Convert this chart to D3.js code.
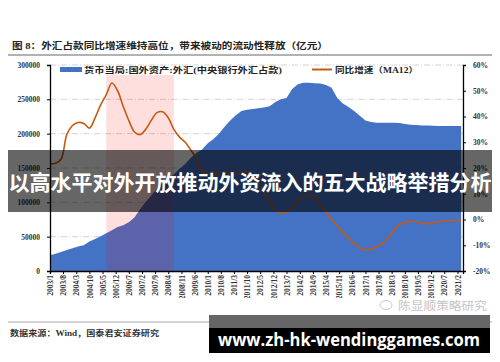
<!DOCTYPE html>
<html>
<head>
<meta charset="utf-8">
<script src="https://cdn.jsdelivr.net/npm/d3@7"></script>
<style>
body { margin: 0; background: #fff; }
svg { display: block; }
</style>
</head>
<body>
<svg id="chart" width="500" height="362"></svg>
<script>
// quarterly samples, 2003/1 .. 2021/4
let months = [
  "2003/1","2003/4","2003/7","2003/10","2004/1","2004/4","2004/7","2004/10",
  "2005/1","2005/4","2005/7","2005/10","2006/1","2006/4","2006/7","2006/10",
  "2007/1","2007/4","2007/7","2007/10","2008/1","2008/4","2008/7","2008/10",
  "2009/1","2009/4","2009/7","2009/10","2010/1","2010/4","2010/7","2010/10",
  "2011/1","2011/4","2011/7","2011/10","2012/1","2012/4","2012/7","2012/10",
  "2013/1","2013/4","2013/7","2013/10","2014/1","2014/4","2014/7","2014/10",
  "2015/1","2015/4","2015/7","2015/10","2016/1","2016/4","2016/7","2016/10",
  "2017/1","2017/4","2017/7","2017/10","2018/1","2018/4","2018/7","2018/10",
  "2019/1","2019/4","2019/7","2019/10","2020/1","2020/4","2020/7","2020/10",
  "2021/1","2021/4"];

// 货币当局:国外资产:外汇 (亿元)
let fxHoldings = [
  23000,25000,27500,30500,33000,35500,37500,43000,
  46500,50500,55000,59500,64000,66500,71000,78000,
  90000,101000,110000,120000,128000,134000,141000,149000,
  156000,165000,172000,177000,186000,192000,200000,210000,
  219000,227000,233000,235000,236000,237000,238000,240000,
  246000,250000,252000,265000,272000,274000,274000,273500,
  273000,271000,267000,252000,244000,239000,233000,226000,
  219000,217000,216000,216000,216000,216000,215500,214000,
  213000,212500,212000,212000,211500,211000,211000,211000,
  211000,211000];

// 同比增速 MA12 (%)
let growth = [
  21.7,21.8,23.5,33,36.5,37.7,37.3,35.5,
  39.5,44.5,48.5,53,50,44,38.5,34,
  33,35,38.5,41.5,41.8,39.5,35,32,
  30,27,23.7,19,17.8,17.8,18,18.2,
  18.2,18.2,18.3,18.2,17.2,15,11,7,
  3.5,2.6,3,4.5,7.5,9.2,9.4,8.8,
  5.5,3,0,-2.5,-5,-7.2,-9.3,-11.2,
  -11.8,-11.5,-10.6,-9.3,-7,-4.5,-2,-1,
  -0.8,-0.8,-1.4,-1.6,-1.2,-0.8,-0.5,-0.4,
  -0.4,-0.4];

let tickLabels = ["2003/1","2003/8","2004/3","2004/10","2005/5","2005/12","2006/7","2007/2",
  "2007/9","2008/4","2008/11","2009/6","2010/1","2010/8","2011/3","2011/10",
  "2012/5","2012/12","2013/7","2014/2","2014/9","2015/4","2015/11","2016/6",
  "2017/1","2017/8","2018/3","2018/10","2019/5","2019/12","2020/7","2021/2"];
let leftTicks = [0,50000,100000,150000,200000,250000,300000];
let rightTicks = [-20,-10,0,10,20,30,40,50,60];
let band = ["2005/7","2008/7"];

let parse = d3.timeParse("%Y/%m");
let fmt = d3.timeFormat("%Y/%-m");

let svg = d3.select("#chart");
let serif = "'Liberation Serif','Noto Sans CJK SC',serif";

let x = d3.scaleTime()
  .domain([parse("2003/1"), parse("2021/5")])
  .range([50, 463]);
let yL = d3.scaleLinear().domain([0,300000]).range([271,65]);
let yR = d3.scaleLinear().domain([-20,60]).range([271,65]);

let data = months.map((m,i) => ({date: parse(m), v: fxHoldings[i], g: growth[i]}));

// title
svg.append("text")
  .attr("x", 12).attr("y", 49)
  .attr("textLength", 316).attr("lengthAdjust", "spacingAndGlyphs")
  .style("font-family", serif).style("font-size", "9px").style("font-weight", "bold")
  .style("fill", "#222")
  .text("图 8：外汇占款同比增速维持高位，带来被动的流动性释放（亿元）");
svg.append("line")
  .attr("x1", 8).attr("x2", 492).attr("y1", 55).attr("y2", 55)
  .attr("stroke", "#999").attr("stroke-width", 1.5);

// grid
leftTicks.slice(1).forEach(t =>
  svg.append("line")
    .attr("x1", 50).attr("x2", 463)
    .attr("y1", yL(t)).attr("y2", yL(t))
    .attr("stroke", "#d4d4d4")
    .attr("stroke-dasharray", "6,2,1,2")
);

// area
let area = d3.area()
  .x(d => x(d.date))
  .y0(yL(0))
  .y1(d => yL(d.v));
svg.append("path")
  .datum(data)
  .attr("d", area)
  .attr("fill", "#4472C4");

// shaded period
svg.append("rect")
  .attr("x", x(parse(band[0])))
  .attr("width", x(parse(band[1])) - x(parse(band[0])))
  .attr("y", 75).attr("height", yL(0) - 75)
  .attr("fill", "rgba(255,0,0,0.13)");

// growth line
let line = d3.line()
  .x(d => x(d.date))
  .y(d => yR(d.g))
  .curve(d3.curveCatmullRom);
svg.append("path")
  .datum(data)
  .attr("d", line)
  .attr("fill", "none")
  .attr("stroke", "#C55A11")
  .attr("stroke-width", 1.6);

// axes
let leftAxis = svg.append("g")
  .attr("transform", "translate(50,0)")
  .call(d3.axisLeft(yL).tickValues(leftTicks).tickSize(3).tickFormat(d3.format("d")));
let rightAxis = svg.append("g")
  .attr("transform", "translate(463,0)")
  .call(d3.axisRight(yR).tickValues(rightTicks).tickSize(3).tickFormat(d => d + "%"));

// long labels get cut at the bottom, like the source picture
svg.append("clipPath").attr("id", "xclip")
  .append("rect").attr("x", 0).attr("y", -10).attr("width", 500).attr("height", 37);
let bottomAxis = svg.append("g")
  .attr("transform", "translate(0,271)")
  .attr("clip-path", "url(#xclip)")
  .call(d3.axisBottom(x).tickValues(tickLabels.map(parse)).tickSize(3).tickFormat(fmt));
bottomAxis.selectAll("text")
  .attr("transform", "rotate(-90)")
  .attr("x", -4).attr("y", 0).attr("dy", "0.35em")
  .style("text-anchor", "end");

[leftAxis, rightAxis, bottomAxis].forEach(a => {
  a.select(".domain").attr("stroke", "#000").attr("stroke-width", 1.3);
  a.selectAll(".tick line").attr("stroke", "#000");
  a.selectAll("text")
    .style("font-family", serif).style("font-weight", "bold")
    .style("font-size", "7.5px").style("fill", "#333");
});
leftAxis.selectAll("text").attr("x", -10);
rightAxis.selectAll("text").attr("x", 10);

// legend
svg.append("rect")
  .attr("x", 60).attr("y", 67).attr("width", 22).attr("height", 5)
  .attr("fill", "#4472C4");
svg.append("text")
  .attr("x", 84).attr("y", 73)
  .attr("textLength", 198).attr("lengthAdjust", "spacingAndGlyphs")
  .style("font-family", serif).style("font-size", "8px").style("font-weight", "bold")
  .style("fill", "#222")
  .text("货币当局:国外资产:外汇(中央银行外汇占款)");
svg.append("line")
  .attr("x1", 312).attr("x2", 332).attr("y1", 69.5).attr("y2", 69.5)
  .attr("stroke", "#C55A11").attr("stroke-width", 2);
svg.append("text")
  .attr("x", 335).attr("y", 73)
  .attr("textLength", 83).attr("lengthAdjust", "spacingAndGlyphs")
  .style("font-family", serif).style("font-size", "8px").style("font-weight", "bold")
  .style("fill", "#222")
  .text("同比增速（MA12）");

// watermark
svg.append("ellipse")
  .attr("cx", 386).attr("cy", 305).attr("rx", 6).attr("ry", 4.5)
  .attr("fill", "none").attr("stroke", "#c8c8c8");
svg.append("text")
  .attr("x", 398).attr("y", 310)
  .attr("textLength", 89).attr("lengthAdjust", "spacingAndGlyphs")
  .style("font-family", "'Noto Sans CJK SC'").style("font-size", "11px")
  .style("fill", "#c4c4c4")
  .text("陈显顺策略研究");

// source
svg.append("line")
  .attr("x1", 8).attr("x2", 492).attr("y1", 322).attr("y2", 322)
  .attr("stroke", "#aaa").attr("stroke-width", 1);
svg.append("text")
  .attr("x", 10).attr("y", 336)
  .attr("textLength", 149).attr("lengthAdjust", "spacingAndGlyphs")
  .style("font-family", serif).style("font-size", "7.5px").style("font-weight", "bold")
  .style("fill", "#333")
  .text("数据来源：Wind，国泰君安证券研究");

// overlay banners
svg.append("rect")
  .attr("x", 8).attr("y", 150).attr("width", 484).attr("height", 62)
  .attr("fill", "rgba(0,0,0,0.6)");
svg.append("text")
  .attr("x", 250).attr("y", 190)
  .attr("text-anchor", "middle")
  .style("font-family", "'Noto Sans CJK SC'").style("font-size", "21px").style("font-weight", "bold")
  .style("fill", "#fff")
  .text("以高水平对外开放推动外资流入的五大战略举措分析");

svg.append("rect")
  .attr("x", 209).attr("y", 315).attr("width", 281).attr("height", 13)
  .attr("fill", "#666");
svg.append("rect")
  .attr("x", 209).attr("y", 328).attr("width", 281).attr("height", 25)
  .attr("fill", "#000");
svg.append("text")
  .attr("x", 218).attr("y", 346)
  .attr("textLength", 262).attr("lengthAdjust", "spacingAndGlyphs")
  .style("font-family", "'Open Sans'").style("font-size", "17px").style("font-weight", "bold")
  .style("fill", "#fff")
  .text("www.zh-hk-wendinggames.com");
</script>
</body>
</html>
